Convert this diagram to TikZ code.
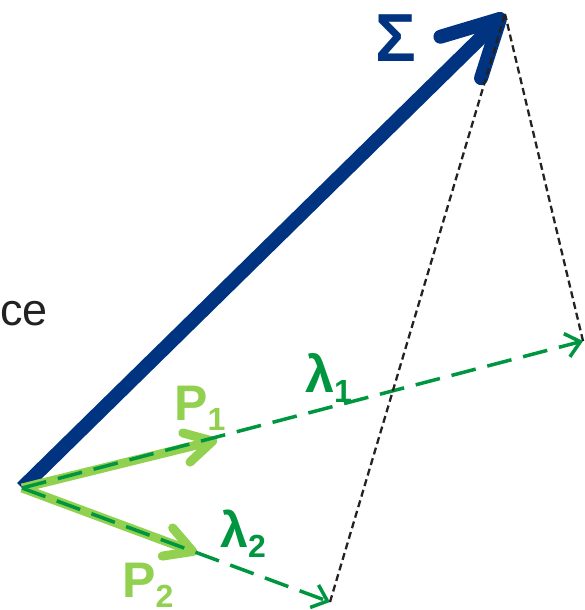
\documentclass[tikz,border=0pt]{standalone}
\usepackage{fontspec}
\setmainfont{Liberation Sans}
\usetikzlibrary{arrows.meta}
\definecolor{navy}{RGB}{0,51,128}
\definecolor{lgreen}{RGB}{146,208,80}
\definecolor{dgreen}{RGB}{0,150,64}
\definecolor{dotgray}{RGB}{34,34,34}
\newcommand\lowsub[1]{\raisebox{-10pt}{\fontsize{32}{32}\selectfont #1}}
\tikzset{
  sigmaarrow/.style={draw=navy, line width=14pt, -{Straight Barb[length=55pt, width=58pt, round]}},
  parrow/.style={draw=lgreen, line width=9pt, -{Straight Barb[length=27pt, width=30pt, round]}},
  lamarrow/.style={draw=dgreen, line width=3.5pt, dash pattern=on 25pt off 12pt, -{Straight Barb[length=14pt, width=24pt]}},
  dotline/.style={draw=dotgray, line width=2.3pt, dash pattern=on 7pt off 4pt},
  biglabel/.style={inner sep=0pt, font=\bfseries\fontsize{50}{50}\selectfont},
}
\begin{document}
\begin{tikzpicture}[x=1pt, y=-1pt]
\useasboundingbox (0,0) rectangle (584,610);
\coordinate (O) at (22,488);
\coordinate (S) at (505,14);
\coordinate (P1) at (217,440);
\coordinate (P2) at (197,553);
\coordinate (L1) at (583,341);
\coordinate (L2) at (330,602);
% text fragment at left
\node[anchor=base east, inner sep=0pt, text=dotgray, font=\fontsize{45}{45}\selectfont] (ce) at (48,325) {ce};
% arrows
\draw[sigmaarrow] (O) -- (S);
\draw[parrow] (O) -- (P1);
\draw[parrow] (O) -- (P2);
\draw[lamarrow] (O) -- (L1);
\draw[lamarrow] (O) -- (L2);
\draw[dotline] (L1) -- (S);
\draw[dotline] (L2) -- (S);
% labels
\node[biglabel, anchor=base west, text=navy, font=\bfseries\fontsize{68}{68}\selectfont] (sig) at (375,62) {Σ};
\node[biglabel, anchor=base west, text=lgreen] (p1) at (174,420) {P\lowsub{1}};
\node[biglabel, anchor=base west, text=lgreen] (p2) at (122,597) {P\lowsub{2}};
\node[biglabel, anchor=base west, text=dgreen, font=\bfseries\fontsize{52}{52}\selectfont] (l1) at (305,392) {λ\lowsub{1}};
\node[biglabel, anchor=base west, text=dgreen, font=\bfseries\fontsize{50}{50}\selectfont] (l2) at (220,547) {λ\lowsub{2}};
\end{tikzpicture}
\end{document}
